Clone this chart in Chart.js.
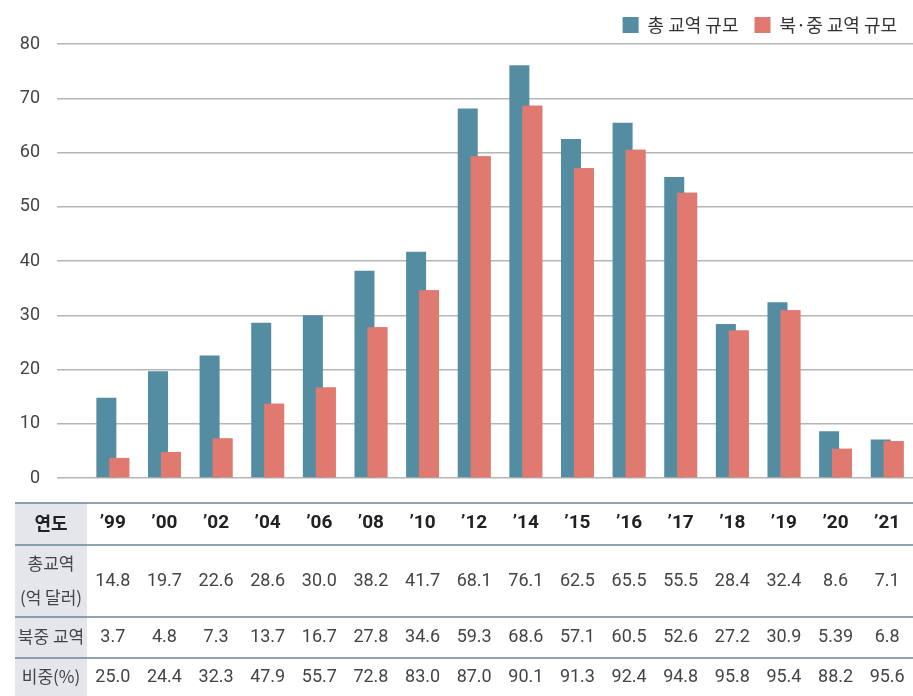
<!DOCTYPE html>
<html>
<head>
<meta charset="utf-8">
<script src="https://cdn.jsdelivr.net/npm/chart.js@4"></script>
<style>
  html, body { margin: 0; padding: 0; background: #fff; }
  #wrap { width: 913px; height: 696px; position: relative; }
</style>
</head>
<body>
<div id="wrap"><canvas id="tradeChart"></canvas></div>
<script>
const years = ["’99","’00","’02","’04","’06","’08","’10","’12","’14","’15","’16","’17","’18","’19","’20","’21"];
const totalTrade = [14.8, 19.7, 22.6, 28.6, 30.0, 38.2, 41.7, 68.1, 76.1, 62.5, 65.5, 55.5, 28.4, 32.4, 8.6, 7.1];
const ncTrade = [3.7, 4.8, 7.3, 13.7, 16.7, 27.8, 34.6, 59.3, 68.6, 57.1, 60.5, 52.6, 27.2, 30.9, 5.39, 6.8];
const ncShare = [25.0, 24.4, 32.3, 47.9, 55.7, 72.8, 83.0, 87.0, 90.1, 91.3, 92.4, 94.8, 95.8, 95.4, 88.2, 95.6];
const yTicks = [0, 10, 20, 30, 40, 50, 60, 70, 80];

const BLUE = "#548ca1";
const RED = "#e07a70";
const FONT = "Roboto, 'Noto Sans CJK KR', sans-serif";
const KFONT = "'Noto Sans CJK KR', sans-serif";

function fmt(v) {
  const s = String(v);
  return s.includes(".") ? s : s + ".0";
}

// red bars sit on top of the blue ones
const redOnTop = {
  id: "redOnTop",
  afterDatasetsDraw(chart) {
    const meta = chart.getDatasetMeta(1);
    if (!meta.hidden) meta.data.forEach(el => el.draw(chart.ctx));
  }
};

// table under the chart, columns follow the x scale
const dataTable = {
  id: "dataTable",
  afterDraw(chart) {
    const ctx = chart.ctx;
    const x = chart.scales.x;
    const left = 15, right = chart.width;
    const lines = [503, 545, 617, 658];

    ctx.save();
    ctx.fillStyle = "#e5e6eb";
    ctx.fillRect(left, lines[0], 72, 696 - lines[0]);

    ctx.strokeStyle = "#6a8799";
    ctx.lineWidth = 1.5;
    lines.forEach(y => {
      ctx.beginPath();
      ctx.moveTo(left, y);
      ctx.lineTo(right, y);
      ctx.stroke();
    });

    ctx.textAlign = "center";
    ctx.textBaseline = "middle";

    // row labels
    ctx.fillStyle = "#222";
    ctx.font = "bold 18px " + KFONT;
    ctx.fillText("연도", 51, 523);
    ctx.fillStyle = "#444";
    ctx.font = "17px " + KFONT;
    ctx.fillText("총교역", 51, 564);
    ctx.fillText("(억 달러)", 51, 598);
    ctx.fillText("북중 교역", 51, 637);
    ctx.fillText("비중(%)", 51, 677);

    years.forEach((yr, i) => {
      const cx = x.getPixelForValue(i);
      ctx.fillStyle = "#222";
      ctx.font = "bold 19px " + FONT;
      ctx.fillText(yr, cx, 523);
      ctx.fillStyle = "#444";
      ctx.font = "18px " + FONT;
      ctx.fillText(fmt(totalTrade[i]), cx, 581);
      ctx.fillText(fmt(ncTrade[i]), cx, 637);
      ctx.fillText(fmt(ncShare[i]), cx, 677);
    });
    ctx.restore();
  }
};

const ctx = document.getElementById("tradeChart");

new Chart(ctx, {
  type: "bar",
  data: {
    labels: years,
    datasets: [
      {
        label: "총 교역 규모",
        data: totalTrade,
        backgroundColor: BLUE,
        categoryPercentage: 0.5,
        barPercentage: 1.55
      },
      {
        label: "북·중 교역 규모",
        data: ncTrade,
        backgroundColor: RED,
        categoryPercentage: 0.5,
        barPercentage: 1.55
      }
    ]
  },
  options: {
    responsive: true,
    maintainAspectRatio: false,
    animation: false,
    layout: {
      padding: { left: 0, right: 0, top: 0, bottom: 218 }
    },
    plugins: {
      legend: {
        position: "top",
        align: "end",
        labels: {
          boxWidth: 16,
          boxHeight: 16,
          padding: 16,
          color: "#333",
          font: { family: KFONT, size: 18 }
        }
      },
      tooltip: { enabled: false }
    },
    scales: {
      x: {
        display: false
      },
      y: {
        min: 0,
        max: 80,
        afterBuildTicks: (s) => { s.ticks = yTicks.map(v => ({ value: v })); },
        afterFit: (s) => { s.width = 87; },
        border: { display: false },
        grid: {
          color: "#b5b5b5",
          lineWidth: 1.5,
          tickLength: 30
        },
        ticks: {
          padding: 17,
          color: "#444",
          font: { family: FONT, size: 18 }
        }
      }
    }
  },
  plugins: [redOnTop, dataTable]
});
</script>
</body>
</html>
